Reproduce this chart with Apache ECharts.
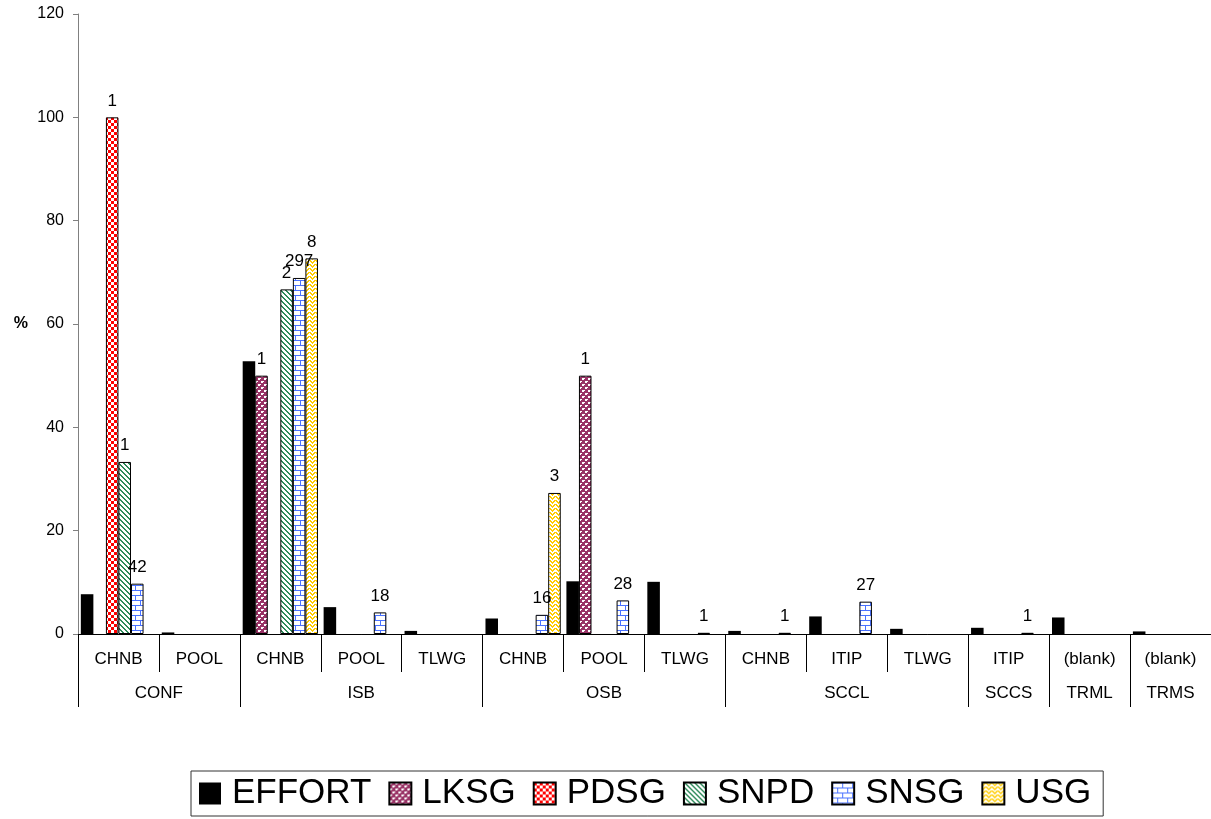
<!DOCTYPE html>
<html><head><meta charset="utf-8">
<script src="https://cdn.jsdelivr.net/npm/echarts@6/dist/echarts.min.js"></script>
<style>html,body{margin:0;padding:0;background:#fff}#c{width:1211px;height:819px}</style>
</head><body><div id="c"></div>
<script>
// ---- data ----
const subCategories = ['CHNB','POOL','CHNB','POOL','TLWG','CHNB','POOL','TLWG','CHNB','ITIP','TLWG','ITIP','(blank)','(blank)'];
const groupNames = ['CONF','ISB','OSB','SCCL','SCCS','TRML','TRMS'];
const groupSizes = [2,3,3,3,1,1,1];
const seriesNames = ['EFFORT','LKSG','PDSG','SNPD','SNSG','USG'];
const effort = [7.7, 0.3, 52.8, 5.2, 0.6, 3.0, 10.2, 10.1, 0.6, 3.4, 1.0, 1.2, 3.2, 0.5];
const lksg   = [null, null, 50, null, null, null, 50, null, null, null, null, null, null, null];
const pdsg   = [100, null, null, null, null, null, null, null, null, null, null, null, null, null];
const snpd   = [33.3, null, 66.7, null, null, null, null, null, null, null, null, null, null, null];
const snsg   = [9.74, null, 68.91, 4.18, null, 3.71, 6.5, 0.23, 0.23, 6.26, null, 0.23, null, null];
const usg    = [null, null, 72.7, null, null, 27.3, null, null, null, null, null, null, null, null];
// count labels shown above bars
const effortCounts = [null,null,null,null,null,null,null,null,null,null,null,null,null,null];
const lksgCounts = [null, null, 1, null, null, null, 1, null, null, null, null, null, null, null];
const pdsgCounts = [1, null, null, null, null, null, null, null, null, null, null, null, null, null];
const snpdCounts = [1, null, 2, null, null, null, null, null, null, null, null, null, null, null];
const snsgCounts = [42, null, 297, 18, null, 16, 28, 1, 1, 27, null, 1, null, null];
const usgCounts  = [null, null, 8, null, null, 3, null, null, null, null, null, null, null, null];
const yMin = 0, yMax = 120, yInterval = 20;

// ---- patterns ----
function tile(w, h, bg, fg, test) {
  const c = document.createElement('canvas');
  c.width = w; c.height = h;
  const g = c.getContext('2d');
  g.fillStyle = bg; g.fillRect(0, 0, w, h);
  g.fillStyle = fg;
  for (let y = 0; y < h; y++) for (let x = 0; x < w; x++) if (test(x, y)) g.fillRect(x, y, 1, 1);
  return { image: c, repeat: 'repeat' };
}
const fills = [
  '#000000',
  tile(6, 6, '#993366', '#ffffff', (x, y) => (x < 2 && y < 2) || (x >= 3 && x < 5 && y >= 3 && y < 5) || (x===2&&y===0) || (x===5&&y===3)),
  tile(6, 6, '#ffffff', '#ff0000', (x, y) => (Math.floor(x / 3) + Math.floor(y / 3)) % 2 === 0),
  tile(5, 5, '#ffffff', '#2e8b5a', (x, y) => ((x - y + 50) % 5) < 2),
  tile(10, 10, '#ffffff', '#4a72ff', (x, y) => y % 5 === 0 || (y < 5 && x === 0) || (y >= 5 && x === 5)),
  tile(6, 4, '#ffffff', '#ffcc00', (x, y) => y === Math.abs(x - 3) || (y === Math.abs(x - 3) - 1))
];
const allValues = [effort, lksg, pdsg, snpd, snsg, usg];
const allCounts = [effortCounts, lksgCounts, pdsgCounts, snpdCounts, snsgCounts, usgCounts];

// group axis helpers (built from groupSizes)
const groupBounds = [0];
groupSizes.forEach(s => groupBounds.push(groupBounds[groupBounds.length - 1] + s));
const groupCenters = groupSizes.map((s, i) => groupBounds[i] + s / 2);

const FONT = '"Liberation Sans", Arial, sans-serif';

const series = seriesNames.map((name, si) => ({
  name,
  type: 'bar',
  xAxisIndex: 0,
  yAxisIndex: 0,
  barGap: '0%',
  barCategoryGap: '7%',
  itemStyle: { color: fills[si], borderColor: '#000', borderWidth: si === 0 ? 0 : 1 },
  label: { position: 'top', distance: 8, color: '#000', fontSize: 17, fontFamily: FONT },
  emphasis: { disabled: true },
  data: allValues[si].map((v, i) => ({
    value: v,
    label: { show: allCounts[si][i] != null, formatter: allCounts[si][i] != null ? String(allCounts[si][i]) : '' }
  }))
}));

const chart = echarts.init(document.getElementById('c'), null, { renderer: 'canvas' });
chart.setOption({
  animation: false,
  backgroundColor: '#fff',
  textStyle: { fontFamily: FONT },
  grid: { left: 78, right: -2, top: 14, bottom: 185, containLabel: false },
  legend: {
    data: seriesNames,
    left: 191, top: 771,
    orient: 'horizontal',
    itemWidth: 22, itemHeight: 22, itemGap: 17,
    padding: [5, 12, 5, 8],
    borderColor: '#333', borderWidth: 1,
    icon: 'rect',
    selectedMode: false,
    textStyle: { fontSize: 35, color: '#000', fontFamily: FONT, padding: [0, 0, 0, 6] }
  },
  xAxis: [
    {
      type: 'category',
      data: subCategories,
      position: 'bottom',
      boundaryGap: true,
      axisLine: { show: true, lineStyle: { color: '#000', width: 1 } },
      axisTick: { show: true, alignWithLabel: false, interval: 0, length: 38, lineStyle: { color: '#000' } },
      axisLabel: { interval: 0, margin: 17, fontSize: 17, color: '#000', fontFamily: FONT },
      splitLine: { show: false }
    },
    {
      type: 'value',
      min: 0, max: subCategories.length,
      position: 'bottom',
      axisLine: { show: false },
      axisTick: { show: true, length: 73, customValues: groupBounds, lineStyle: { color: '#000' } },
      axisLabel: {
        margin: 51, fontSize: 17, color: '#000', fontFamily: FONT,
        customValues: groupCenters,
        formatter: v => { const k = groupCenters.findIndex(c => Math.abs(c - v) < 1e-6); return k >= 0 ? groupNames[k] : ''; }
      },
      splitLine: { show: false }
    }
  ],
  yAxis: {
    type: 'value',
    min: yMin, max: yMax, interval: yInterval,
    name: '%',
    nameLocation: 'middle',
    nameRotate: 0,
    nameGap: 50,
    nameTextStyle: { fontSize: 16, fontWeight: 'bold', color: '#000', fontFamily: FONT },
    axisLine: { show: true, lineStyle: { color: '#808080', width: 1 } },
    axisTick: { show: true, length: 5, lineStyle: { color: '#808080' } },
    axisLabel: { margin: 14, fontSize: 16, color: '#000', fontFamily: FONT },
    splitLine: { show: false }
  },
  series
});
</script>
</body></html>
